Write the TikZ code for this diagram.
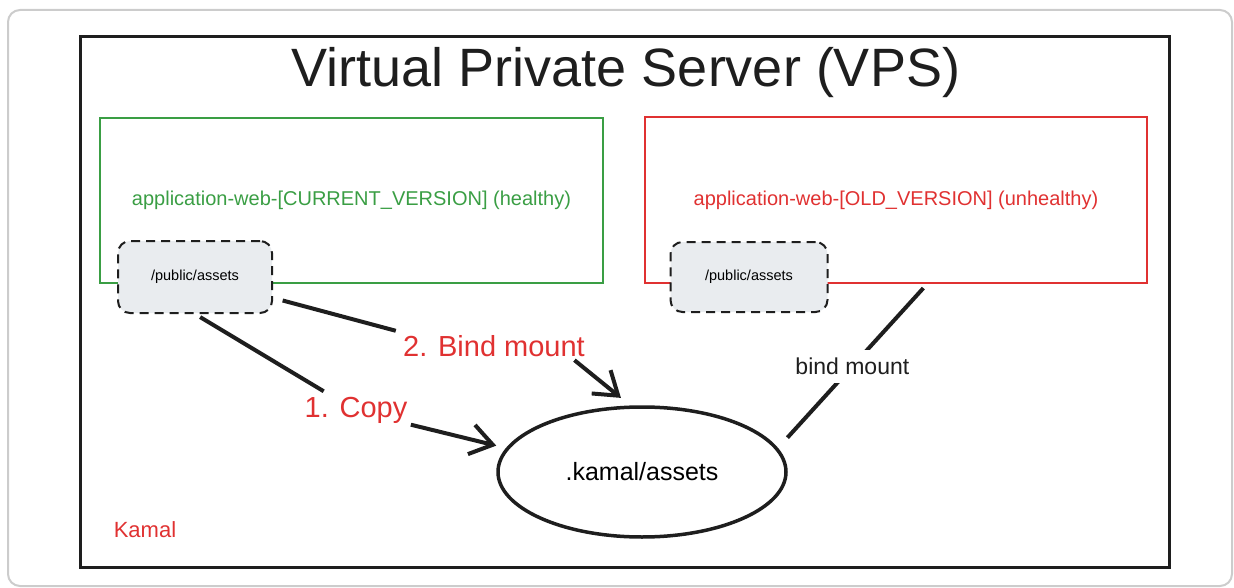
\documentclass[tikz,border=0pt]{standalone}
\usepackage{fontspec}
\setmainfont{Liberation Sans}
\usepackage{xcolor}
\usetikzlibrary{arrows.meta, positioning, shapes.geometric, calc}
\definecolor{vpsgreen}{HTML}{3A9E44}
\definecolor{vpsred}{HTML}{E03131}
\definecolor{inkblack}{HTML}{1E1E1E}
\definecolor{mountgray}{HTML}{E9ECEF}

\begin{document}
\begin{tikzpicture}[
  x=1pt, y=-1pt,
  >={Straight Barb[length=22pt, width=30pt]},
  web/.style={rectangle, line width=2.8pt, minimum width=503pt, minimum height=165pt, font=\fontsize{20}{22}\selectfont},
  mnt/.style={rectangle, rounded corners=12pt, draw=inkblack, line width=2pt, dash pattern=on 9pt off 6pt, fill=mountgray, font=\fontsize{14.5}{16}\selectfont},
  lbl/.style={text=vpsred, font=\fontsize{29}{32}\selectfont},
  conn/.style={draw=inkblack, line width=4pt}
]
  \useasboundingbox (0,0) rectangle (1234,588);
  \draw[black!20, line width=2pt, rounded corners=12pt] (8,10) rectangle (1232,586);

  \node[draw=inkblack, line width=3pt, minimum width=1089pt, minimum height=530pt] (vps) at (624.5,302) {};
  \node[text=inkblack, font=\fontsize{54}{60}\selectfont] (title) at (626,73) {Virtual Private Server (VPS)};

  \node[web, draw=vpsgreen, text=vpsgreen] (curweb) at (351.5,200.5) {application-web-[CURRENT\_VERSION] (healthy)};
  \node[web, draw=vpsred, text=vpsred, minimum width=502pt, minimum height=166pt] (oldweb) at (896,200) {application-web-[OLD\_VERSION] (unhealthy)};

  \node[mnt, minimum width=154pt, minimum height=72pt] (curpub) at (195,277) {/public/assets};
  \node[mnt, minimum width=157pt, minimum height=70pt] (oldpub) at (749,277) {/public/assets};

  \node[ellipse, draw=inkblack, line width=3.5pt, minimum width=288pt, minimum height=130pt, font=\fontsize{25}{28}\selectfont] (assets) at (642,472) {.kamal/assets};

  \node[lbl] (copy) at (356,410) {1. Copy};
  \node[lbl] (bind) at (494,346) {2. Bind mount};
  \node[text=vpsred, font=\fontsize{22}{24}\selectfont] (kamal) at (145,530) {Kamal};

  \draw[conn, shorten <=6pt, shorten >=4pt] (curpub.south) -- (copy.150);
  \draw[conn, ->, shorten >=10pt] (copy.-15) -- (assets.170);
  \draw[conn, shorten <=10pt, shorten >=4pt] (curpub.-15) -- (bind.north west);
  \draw[conn, ->, shorten >=12pt] (bind.-10) -- (assets.100);
  \draw[conn, shorten <=5pt, shorten >=14pt] (oldweb.-70) -- node[fill=white, text=inkblack, font=\fontsize{23}{25}\selectfont, inner sep=8pt] (bindold) {bind mount} (assets.10);
\end{tikzpicture}
\end{document}
